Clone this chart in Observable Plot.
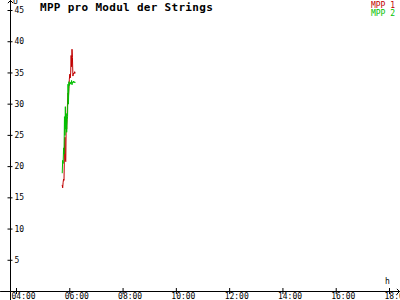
<!DOCTYPE html>
<html>
<head>
<meta charset="utf-8">
<script src="https://cdn.jsdelivr.net/npm/d3@7"></script>
<script src="https://cdn.jsdelivr.net/npm/@observablehq/plot@0.6"></script>
<style>
  html, body { margin: 0; padding: 0; background: #fff; }
  #chart { width: 400px; height: 300px; overflow: hidden; }
</style>
</head>
<body>
<div id="chart"></div>
<script>
// ---- data ----
const times = ["05:43","05:44","05:45","05:46","05:47","05:48","05:49","05:50","05:51","05:52",
               "05:53","05:54","05:55","05:56","05:57","05:58","05:59","06:00","06:01","06:02",
               "06:03","06:04","06:05","06:06","06:07","06:08","06:09","06:10","06:11","06:12"];
const mpp1 = [17.0,16.6,17.5,18.0,17.8,22.5,24.7,21.0,20.8,27.5,
              26.0,28.0,30.5,31.8,31.2,32.5,34.0,34.8,34.2,35.0,
              37.8,36.0,38.8,37.5,34.5,34.8,35.0,34.9,35.2,35.0];
const mpp2 = [19.0,21.0,20.5,23.0,22.0,28.0,25.0,29.6,26.0,28.5,
              25.5,27.5,28.0,33.2,30.0,33.6,33.0,33.4,33.2,33.5,
              33.3,33.8,33.1,33.5,33.4,33.7,33.5,33.4,33.6,33.5];
const seriesNames = ["MPP 1", "MPP 2"];
const seriesColors = ["#c00000", "#00c000"];
const yTicks = [5,10,15,20,25,30,35,40,45];
const xTicks = [4,6,8,10,12,14,16,18];
const title = "MPP pro Modul der Strings";
const yUnit = "U";
const xUnit = "h";

// ---- build ----
const toHours = s => { const [h, m] = s.split(":").map(Number); return h + m / 60; };
const rows = [];
times.forEach((t, i) => {
  rows.push({t: toHours(t), v: mpp1[i], s: seriesNames[0]});
  rows.push({t: toHours(t), v: mpp2[i], s: seriesNames[1]});
});

const W = 400, H = 300;
const mL = 10, mR = 2, mT = 10, mB = 9;
const pxPerH = 26.643;           // 2h ≈ 53.3 px
const xMin = 4 - 6 / pxPerH;     // axis at x=10
const xMax = xMin + (W - mL - mR) / pxPerH;
const pxPerU = (H - mT - mB) / 45;
const yTop = 45 + mT / pxPerU;
const yBot = -mB / pxPerU;
const xLeft = xMin - mL / pxPerH;
const xRight = xMax + 1 / pxPerH;
const fmtH = h => String(h).padStart(2, "0") + ":00";
const mono = "DejaVu Sans Mono, monospace";

const tx = 2.5 / pxPerH, ty = 3 / pxPerU;

const chart = Plot.plot({
  width: W, height: H,
  marginLeft: mL, marginRight: mR, marginTop: mT, marginBottom: mB,
  style: {fontFamily: mono, background: "#fff", overflow: "visible"},
  x: {domain: [xMin, xMax], axis: null},
  y: {domain: [0, 45], axis: null},
  color: {domain: seriesNames, range: seriesColors},
  marks: [
    // axes
    Plot.arrow([0], {x1: xMin, x2: xMin, y1: yBot, y2: yTop, stroke: "black", strokeWidth: 1, headLength: 5, headAngle: 90, insetEnd: 0}),
    Plot.arrow([0], {x1: xLeft, x2: xRight, y1: 0, y2: 0, stroke: "black", strokeWidth: 1, headLength: 5, headAngle: 90, insetEnd: 0}),
    Plot.ruleY(yTicks, {y: d => d, x1: xMin - tx, x2: xMin + tx, stroke: "black"}),
    Plot.ruleX(xTicks, {x: d => d, y1: -ty, y2: ty, stroke: "black"}),
    Plot.text(yTicks, {x: xMin, y: d => d, text: d => String(d), dx: 4, textAnchor: "start", fontSize: 8, fill: "black"}),
    Plot.text(xTicks, {x: d => d, y: 0, text: d => fmtH(d), dx: -5, dy: 2, textAnchor: "start", lineAnchor: "top", fontSize: 8, fill: "black"}),
    // data
    Plot.line(rows, {x: "t", y: "v", z: "s", stroke: "s", strokeWidth: 1, curve: "linear"})
  ]
});
document.getElementById("chart").appendChild(chart);

// titles, units and legend as SVG text
const svg = d3.select(chart);
svg.append("text").attr("x", 40).attr("y", 11).attr("text-anchor", "start")
  .attr("font-family", mono).attr("font-size", 11).attr("font-weight", "bold")
  .attr("letter-spacing", 0.3).attr("fill", "black").text(title);
svg.append("text").attr("x", 13).attr("y", 4).attr("text-anchor", "start")
  .attr("font-family", mono).attr("font-size", 8).attr("fill", "black").text(yUnit);
svg.append("text").attr("x", 385).attr("y", 284).attr("text-anchor", "start")
  .attr("font-family", mono).attr("font-size", 8).attr("fill", "black").text(xUnit);
seriesNames.forEach((n, i) => {
  svg.append("text").attr("x", 395).attr("y", 8 + 8 * i).attr("text-anchor", "end")
    .attr("font-family", mono).attr("font-size", 8).attr("fill", seriesColors[i]).text(n);
});
</script>
</body>
</html>
